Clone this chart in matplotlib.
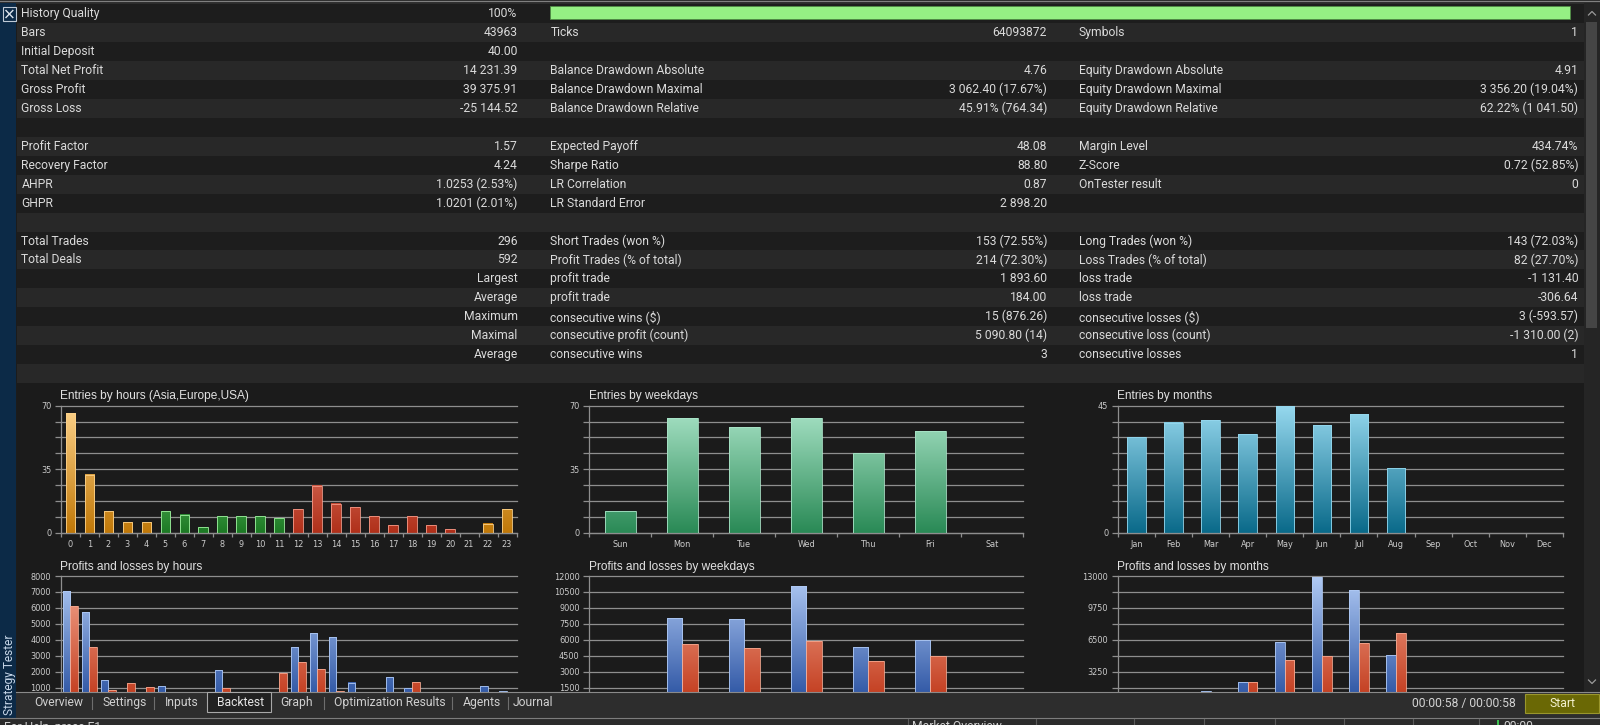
import numpy as np
import matplotlib
matplotlib.use("Agg")
import matplotlib.pyplot as plt
from matplotlib.patches import Rectangle
from matplotlib.colors import LinearSegmentedColormap

W, H = 1600, 725

# ---------------- data ----------------
col1_labels = ["History Quality", "Bars", "Initial Deposit", "Total Net Profit", "Gross Profit", "Gross Loss", "",
               "Profit Factor", "Recovery Factor", "AHPR", "GHPR", "",
               "Total Trades", "Total Deals", "", "", "", "", "", ""]
col1_values = ["100%", "43963", "40.00", "14 231.39", "39 375.91", "-25 144.52", "",
               "1.57", "4.24", "1.0253 (2.53%)", "1.0201 (2.01%)", "",
               "296", "592", "Largest", "Average", "Maximum", "Maximal", "Average", ""]
col2_labels = ["", "Ticks", "", "Balance Drawdown Absolute", "Balance Drawdown Maximal", "Balance Drawdown Relative", "",
               "Expected Payoff", "Sharpe Ratio", "LR Correlation", "LR Standard Error", "",
               "Short Trades (won %)", "Profit Trades (% of total)", "profit trade", "profit trade",
               "consecutive wins ($)", "consecutive profit (count)", "consecutive wins", ""]
col2_values = ["", "64093872", "", "4.76", "3 062.40 (17.67%)", "45.91% (764.34)", "",
               "48.08", "88.80", "0.87", "2 898.20", "",
               "153 (72.55%)", "214 (72.30%)", "1 893.60", "184.00", "15 (876.26)", "5 090.80 (14)", "3", ""]
col3_labels = ["", "Symbols", "", "Equity Drawdown Absolute", "Equity Drawdown Maximal", "Equity Drawdown Relative", "",
               "Margin Level", "Z-Score", "OnTester result", "", "",
               "Long Trades (won %)", "Loss Trades (% of total)", "loss trade", "loss trade",
               "consecutive losses ($)", "consecutive loss (count)", "consecutive losses", ""]
col3_values = ["", "1", "", "4.91", "3 356.20 (19.04%)", "62.22% (1 041.50)", "",
               "434.74%", "0.72 (52.85%)", "0", "", "",
               "143 (72.03%)", "82 (27.70%)", "-1 131.40", "-306.64", "3 (-593.57)", "-1 310.00 (2)", "1", ""]
history_quality = 100

hours = [str(h) for h in range(24)]
hour_session = ["asia"] * 5 + ["europe"] * 7 + ["usa"] * 9 + ["asia"] * 3
hour_entries = [66, 32, 12, 6, 6, 12, 10, 3, 9, 9, 9, 8, 13, 26, 16, 14, 9, 4, 9, 4, 2, 0, 5, 13]
hour_profits = [7030, 5750, 1480, 500, 450, 1100, 600, 200, 2100, 550, 600, 500,
                3540, 4420, 4150, 1320, 550, 1690, 1000, 300, 150, 0, 1100, 780]
hour_losses = [6140, 3520, 850, 1270, 1060, 400, 300, 100, 950, 350, 300, 1920,
               2615, 2150, 810, 300, 250, 200, 1340, 150, 100, 0, 60, 0]

weekdays = ["Sun", "Mon", "Tue", "Wed", "Thu", "Fri", "Sat"]
weekday_entries = [12, 63, 58, 63, 44, 56, 0]
weekday_profits = [900, 8080, 7990, 11050, 5360, 5980, 0]
weekday_losses = [60, 5600, 5230, 5920, 3980, 4450, 0]

months = ["Jan", "Feb", "Mar", "Apr", "May", "Jun", "Jul", "Aug", "Sep", "Oct", "Nov", "Dec"]
month_entries = [34, 39, 40, 35, 45, 38, 42, 23, 0, 0, 0, 0]
month_profits = [80, 90, 1270, 2220, 6260, 12900, 11600, 4960, 0, 0, 0, 0]
month_losses = [90, 100, 80, 2220, 4450, 4890, 6160, 7150, 0, 0, 0, 0]

tab_names = ["Overview", "Settings", "Inputs", "Backtest", "Graph", "Optimization Results", "Agents", "Journal"]
selected_tab = "Backtest"
elapsed_text = "00:00:58 / 00:00:58"

# ---------------- style ----------------
TFONT = "Roboto"
TSIZE = 8.7
TCOL = "#dadada"
CFONT = "Liberation Sans"
KFONT = "DejaVu Sans"
GRID = "#8e8e8e"

session_colors = {"asia": ("#c07808", "#fdd28a"),
                  "europe": ("#1c7a24", "#a0f0a0"),
                  "usa": ("#b0301a", "#f49a88")}
WD_COL = ("#2a8a56", "#aae4c8")
MO_COL = ("#0a6a8a", "#96d8ee")
PROF_COL = ("#2850a0", "#b0caf4")
LOSS_COL = ("#c0381a", "#f4a890")

fig = plt.figure(figsize=(W / 100, H / 100), dpi=100)
fig.patch.set_facecolor("#1c1c1c")

bg = fig.add_axes([0, 0, 1, 1], zorder=0)
bg.set_xlim(0, W)
bg.set_ylim(H, 0)
bg.axis("off")


def rect(ax, x0, y0, x1, y1, fc, ec="none", lw=0.0, z=1):
    ax.add_patch(Rectangle((x0, y0), x1 - x0, y1 - y0, facecolor=fc, edgecolor=ec, linewidth=lw, zorder=z))


# top border
rect(bg, 0, 0, W, 4, "#2c2c2c")
bg.plot([0, W], [1.2, 1.2], color="#808080", lw=0.8, zorder=2)

# table rows
ROW0, PITCH = 13.6, 18.95
for i in range(len(col1_labels)):
    yc = ROW0 + PITCH * i
    rect(bg, 16.5, yc - PITCH / 2, 1583.6, yc + PITCH / 2, "#1d1d1d" if i % 2 == 0 else "#282828")
    kw = dict(va="center", fontsize=TSIZE, color=TCOL, family=TFONT, zorder=3)
    bg.text(21.3, yc, col1_labels[i], ha="left", **kw)
    bg.text(517.6, yc, col1_values[i], ha="right", **kw)
    bg.text(550.3, yc, col2_labels[i], ha="left", **kw)
    bg.text(1047.2, yc, col2_values[i], ha="right", **kw)
    bg.text(1078.6, yc, col3_labels[i], ha="left", **kw)
    bg.text(1578.2, yc, col3_values[i], ha="right", **kw)

# history quality bar
rect(bg, 549.6, 6, 549.6 + 1020 * history_quality / 100, 19.3, "#95f084", ec="#4f8a45", lw=0.6, z=3)

# left sidebar
rect(bg, 0, 3, 16.2, 718, "#0c2a47", z=2)
bg.text(9.5, 674.5, "Strategy Tester", rotation=90, ha="center", va="center",
        fontsize=8.6, color="#c6d6e8", family=TFONT, zorder=4)
# close box
rect(bg, 3, 7.2, 15.8, 20.8, "#0c2a47", ec="#c0cad6", lw=0.8, z=4)
bg.plot([6, 12.8], [10.5, 17.5], color="#dfe6ee", lw=1.0, zorder=5)
bg.plot([6, 12.8], [17.5, 10.5], color="#dfe6ee", lw=1.0, zorder=5)

# scrollbar
rect(bg, 1583.6, 3, W, 692, "#252525", z=2)
rect(bg, 1585.5, 21.5, 1596.5, 328, "#454545", z=3)
bg.plot([1588.5, 1592, 1595.5], [15, 11.5, 15], color="#9a9a9a", lw=0.9, zorder=4)
bg.plot([1588.5, 1592, 1595.5], [680, 683.5, 680], color="#9a9a9a", lw=0.9, zorder=4)

# chart region
rect(bg, 16.5, 383, 1583.6, 692, "#1b1b1b", z=1)


def make_chart(l, r, t, b, ymax, label_step, cats, show_xlabels=True):
    ax = fig.add_axes([l / W, 1 - b / H, (r - l) / W, (b - t) / H], zorder=5)
    ax.set_facecolor("none")
    n = len(cats)
    yt = np.linspace(0, ymax, 9)
    ax.set_yticks(yt)
    ax.set_yticklabels([f"{v:.0f}" if (i % label_step == 0 and (i > 0 or show_xlabels)) else ""
                        for i, v in enumerate(yt)])
    ax.set_xticks(np.arange(n))
    # lower charts: the category labels sit under the tab bar and are not visible
    ax.set_xticklabels(cats if show_xlabels else [""] * n)
    ax.set_xticks(np.arange(n + 1) - 0.5, minor=True)
    ax.tick_params(axis="x", which="major", length=0, pad=5.0, labelsize=5.9, labelcolor="#cccccc")
    ax.tick_params(axis="x", which="minor", length=2.9, width=0.9, color=GRID, direction="out")
    ax.tick_params(axis="y", length=4.4, width=0.9, color=GRID, pad=2.6, labelsize=5.9, labelcolor="#cccccc")
    for lbl in ax.get_xticklabels() + ax.get_yticklabels():
        lbl.set_fontfamily(KFONT)
    for s in ["top", "right"]:
        ax.spines[s].set_visible(False)
    for s in ["left", "bottom"]:
        ax.spines[s].set_color(GRID)
        ax.spines[s].set_linewidth(0.9)
    ax.grid(axis="y", color=GRID, lw=0.9)
    ax.set_axisbelow(True)
    for gl in ax.get_ygridlines():
        gl.set_clip_on(False)
    return ax


def grad_bars(ax, xs, vals, width, colors, ymax):
    bars = ax.bar(xs, vals, width, facecolor="none", linewidth=0.6, zorder=3)
    for rct, (cb, ct) in zip(bars, colors):
        h = rct.get_height()
        if h <= 0:
            rct.set_visible(False)
            continue
        rct.set_edgecolor(ct)
        cmap = LinearSegmentedColormap.from_list("g", [cb, ct])
        x0, w = rct.get_x(), rct.get_width()
        grad = np.linspace(0, h / ymax, 64).reshape(-1, 1)
        ax.imshow(grad, extent=(x0, x0 + w, 0, h), origin="lower", cmap=cmap, vmin=0, vmax=1,
                  aspect="auto", zorder=2, interpolation="bilinear")


def finish(ax, n, ymax):
    ax.set_xlim(-0.5, n - 0.5)
    ax.set_ylim(0, ymax)


TOP_T, TOP_B = 405.7, 532.7
BOT_T, BOT_B = 576.0, 703.6
HX = (60.85, 516.5)
WX = (589.3, 1023.3)
MX = (1118.0, 1562.8)
title_kw = dict(ha="left", va="center", fontsize=8.6, color="#e2e2e2", family=CFONT, zorder=3)

# Entries by hours
ax = make_chart(HX[0], HX[1], TOP_T, TOP_B, 70, 4, hours)
grad_bars(ax, np.arange(24), hour_entries, 0.5, [session_colors[s] for s in hour_session], 70)
finish(ax, 24, 70)
bg.text(59.5, 395.7, "Entries by hours (Asia,Europe,USA)", **title_kw)

# Entries by weekdays
ax = make_chart(WX[0], WX[1], TOP_T, TOP_B, 70, 4, weekdays)
grad_bars(ax, np.arange(7), weekday_entries, 0.5, [WD_COL] * 7, 70)
finish(ax, 7, 70)
bg.text(588.7, 395.7, "Entries by weekdays", **title_kw)

# Entries by months
ax = make_chart(MX[0], MX[1], TOP_T, TOP_B, 45, 8, months)
grad_bars(ax, np.arange(12), month_entries, 0.5, [MO_COL] * 12, 45)
finish(ax, 12, 45)
bg.text(1117.3, 395.7, "Entries by months", **title_kw)

# Profits and losses by hours
ax = make_chart(HX[0], HX[1], BOT_T, BOT_B, 8000, 1, hours, show_xlabels=False)
grad_bars(ax, np.arange(24) - 0.2, hour_profits, 0.4, [PROF_COL] * 24, 8000)
grad_bars(ax, np.arange(24) + 0.2, hour_losses, 0.4, [LOSS_COL] * 24, 8000)
finish(ax, 24, 8000)
bg.text(59.5, 566.7, "Profits and losses by hours", **title_kw)

# Profits and losses by weekdays
ax = make_chart(WX[0], WX[1], BOT_T, BOT_B, 12000, 1, weekdays, show_xlabels=False)
grad_bars(ax, np.arange(7) - 0.125, weekday_profits, 0.25, [PROF_COL] * 7, 12000)
grad_bars(ax, np.arange(7) + 0.125, weekday_losses, 0.25, [LOSS_COL] * 7, 12000)
finish(ax, 7, 12000)
bg.text(588.7, 566.7, "Profits and losses by weekdays", **title_kw)

# Profits and losses by months
ax = make_chart(MX[0], MX[1], BOT_T, BOT_B, 13000, 2, months, show_xlabels=False)
grad_bars(ax, np.arange(12) - 0.13, month_profits, 0.26, [PROF_COL] * 12, 13000)
grad_bars(ax, np.arange(12) + 0.13, month_losses, 0.26, [LOSS_COL] * 12, 13000)
finish(ax, 12, 13000)
bg.text(1117.3, 566.7, "Profits and losses by months", **title_kw)

# ---------------- overlay: tab bar and status bar ----------------
fg = fig.add_axes([0, 0, 1, 1], zorder=10)
fg.set_xlim(0, W)
fg.set_ylim(H, 0)
fg.axis("off")

rect(fg, 16.3, 692, W, 717.5, "#2d2d2d")
fg.plot([16.3, W], [692.3, 692.3], color="#8a8a8a", lw=0.8, zorder=2)

tab_x = [33.8, 102.4, 164.6, 217.4, 280.6, 333.7, 462.5, 513.0]
sep_x = [92.0, 153.8, 323.5, 452.3, 507.5]
rect(fg, 207.2, 692, 270.5, 711.7, "#212121", ec="#a8a8a8", lw=0.8, z=3)
for name, x in zip(tab_names, tab_x):
    fg.text(x, 702.3, name, ha="left", va="center", fontsize=TSIZE,
            color="#e6e6e6" if name == selected_tab else "#d0d0d0", family=TFONT, zorder=4)
for x in sep_x:
    fg.plot([x, x], [696.5, 708.5], color="#6e6e6e", lw=0.8, zorder=3)

fg.text(1516, 703, elapsed_text, ha="right", va="center", fontsize=TSIZE, color="#d4d4d4", family=TFONT, zorder=4)
rect(fg, 1524.6, 694.2, 1599.2, 713.3, "#6a6805", ec="#9a962c", lw=0.8, z=3)
fg.text(1562, 703.6, "Start", ha="center", va="center", fontsize=TSIZE, color="#f4f2d0", family=TFONT, zorder=4)

fg.plot([0, W], [717.6, 717.6], color="#7c7c7c", lw=0.8, zorder=2)
rect(fg, 0, 718, W, H, "#2b2b2b")
for x in [907.7, 1036, 1133.6, 1204.3, 1275.4, 1343.6, 1413.2, 1479.3]:
    fg.plot([x, x], [719, H], color="#5a5a5a", lw=0.8, zorder=3)
rect(fg, 1497, 720, 1499, H, "#3cc050", z=4)
st_kw = dict(ha="left", va="top", fontsize=TSIZE, color="#d0d0d0", family=TFONT, zorder=4)
fg.text(4, 720.5, "For Help, press F1", **st_kw)
fg.text(911.7, 720.5, "Market Overview", **st_kw)
fg.text(1503, 720.5, "00:00", **st_kw)

fig.savefig("out.png", dpi=100, facecolor=fig.get_facecolor())
